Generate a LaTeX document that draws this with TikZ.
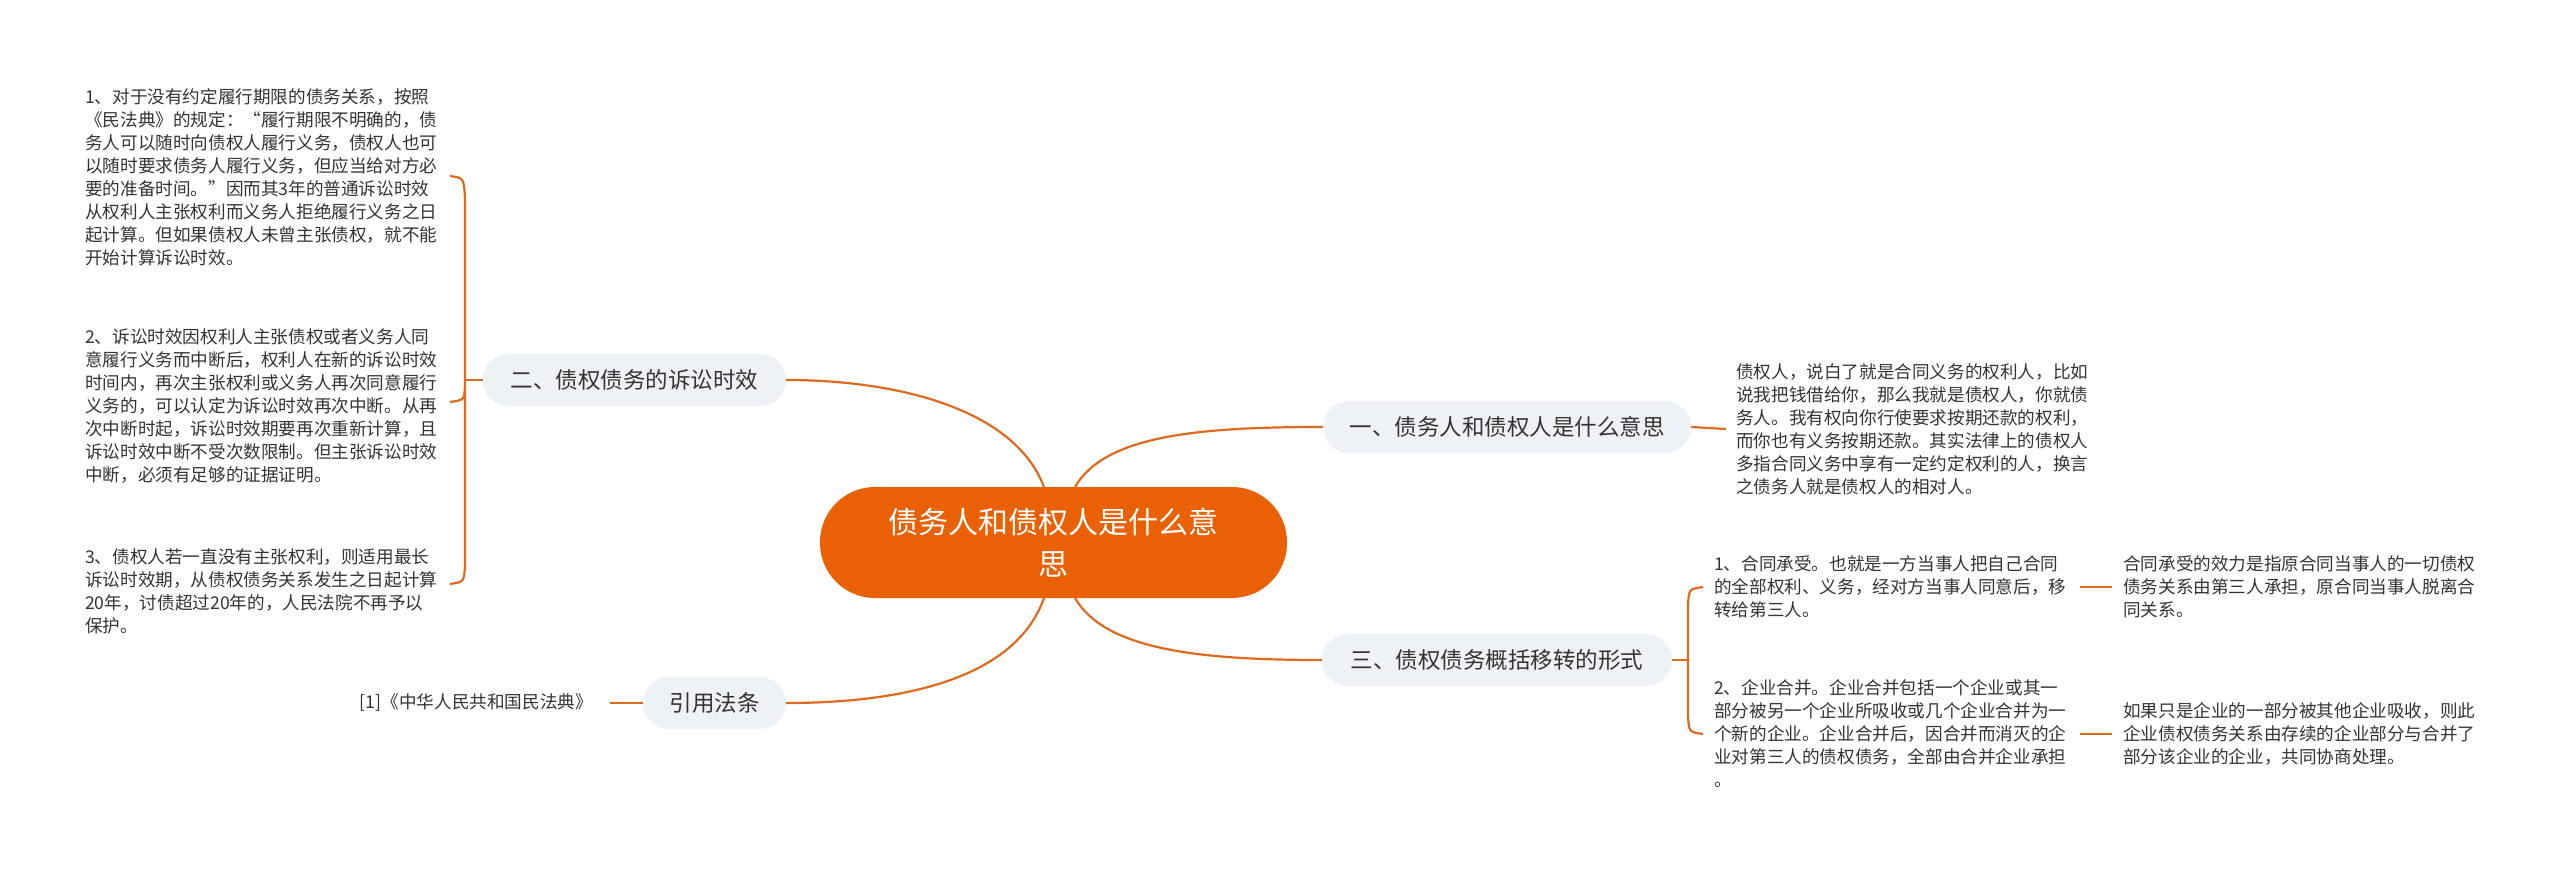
\documentclass[tikz,border=0pt]{standalone}
\usepackage{fontspec}
\setmainfont{Noto Sans CJK SC}
\begin{document}
\begin{tikzpicture}[x=1pt,y=-1pt,
  line/.style={draw=lineC,line width=2.2pt},
  branch/.style={fill=boxC,rounded corners=26pt,minimum height=52pt,inner xsep=26pt,text=txtC,font=\fontsize{22.5}{27}\selectfont},
  leaf/.style={inner sep=0pt,align=left,text=txtC,font=\fontsize{17.6}{23}\selectfont,anchor=west}]
\definecolor{lineC}{HTML}{DE6A1E}
\definecolor{mainC}{HTML}{EA6005}
\definecolor{boxC}{HTML}{EEF1F5}
\definecolor{txtC}{HTML}{333333}
\useasboundingbox (0,0) rectangle (2560,875);
\fill[white] (0,0) rectangle (2560,875);
% center
\node[fill=mainC,rounded corners=55pt,minimum width=467pt,minimum height=111pt,text=white,align=center,font=\fontsize{30}{42}\selectfont] (c) at (1053.5,542.5) {债务人和债权人是什么意\\思};
% branches
\node[branch,minimum width=368pt] (b1) at (1507,427) {一、债务人和债权人是什么意思};
\node[branch,minimum width=350pt] (b3) at (1497,660) {三、债权债务概括移转的形式};
\node[branch,minimum width=303pt] (b2) at (634.5,380) {二、债权债务的诉讼时效};
\node[branch,minimum width=143pt] (b4) at (714.5,703) {引用法条};
\coordinate (ctl) at (1044,487);
\coordinate (ctr) at (1075,487);
\coordinate (cbl) at (1044,598);
\coordinate (cbr) at (1075,598);
\draw[line] (ctr) .. controls (1105,435) and (1200,427) .. (b1.west);
\draw[line] (cbr) .. controls (1105,650) and (1200,660) .. (b3.west);
\draw[line] (ctl) .. controls (1015,410) and (900,380) .. (b2.east);
\draw[line] (cbl) .. controls (1015,680) and (900,703) .. (b4.east);
% right 1
\node[leaf] (r1) at (1736,429) {债权人，说白了就是合同义务的权利人，比如\\说我把钱借给你，那么我就是债权人，你就债\\务人。我有权向你行使要求按期还款的权利，\\而你也有义务按期还款。其实法律上的债权人\\多指合同义务中享有一定约定权利的人，换言\\之债务人就是债权人的相对人。};
\draw[line] (b1.east) -- (r1.west -| 1726,0);
% section 3
\node[leaf] (t31) at (1714,587) {1、合同承受。也就是一方当事人把自己合同\\的全部权利、义务，经对方当事人同意后，移\\转给第三人。};
\node[leaf] (t32) at (1714,734) {2、企业合并。企业合并包括一个企业或其一\\部分被另一个企业所吸收或几个企业合并为一\\个新的企业。企业合并后，因合并而消灭的企\\业对第三人的债权债务，全部由合并企业承担\\。};
\node[leaf] (t31r) at (2123,587) {合同承受的效力是指原合同当事人的一切债权\\债务关系由第三人承担，原合同当事人脱离合\\同关系。};
\node[leaf] (t32r) at (2123,734) {如果只是企业的一部分被其他企业吸收，则此\\企业债权债务关系由存续的企业部分与合并了\\部分该企业的企业，共同协商处理。};
\draw[line] (b3.east) -- (1687,660);
\draw[line] (1703,587) .. controls (1689,589) .. (1688,605) -- (1688,716) .. controls (1689,732) .. (1703,734);
\draw[line] (2080,587) -- (2112,587);
\draw[line] (2080,734) -- (2112,734);
% section 2
\node[leaf] (t21) at (85,177) {1、对于没有约定履行期限的债务关系，按照\\《民法典》的规定：“履行期限不明确的，债\\务人可以随时向债权人履行义务，债权人也可\\以随时要求债务人履行义务，但应当给对方必\\要的准备时间。”因而其3年的普通诉讼时效\\从权利人主张权利而义务人拒绝履行义务之日\\起计算。但如果债权人未曾主张债权，就不能\\开始计算诉讼时效。};
\node[leaf] (t22) at (85,406) {2、诉讼时效因权利人主张债权或者义务人同\\意履行义务而中断后，权利人在新的诉讼时效\\时间内，再次主张权利或义务人再次同意履行\\义务的，可以认定为诉讼时效再次中断。从再\\次中断时起，诉讼时效期要再次重新计算，且\\诉讼时效中断不受次数限制。但主张诉讼时效\\中断，必须有足够的证据证明。};
\node[leaf] (t23) at (85,591) {3、债权人若一直没有主张权利，则适用最长\\诉讼时效期，从债权债务关系发生之日起计算\\20年，讨债超过20年的，人民法院不再予以\\保护。};
\draw[line] (b2.west) -- (466,380);
\draw[line] (450,176) .. controls (464,178) .. (465,200) -- (465,388) .. controls (464,400) .. (450,402);
\draw[line] (465,388) -- (465,565) .. controls (464,582) .. (450,584);
% citation
\node[inner sep=0pt,anchor=east,text=txtC,font=\fontsize{17.6}{23}\selectfont] (t4) at (593,703) {[1]《中华人民共和国民法典》};
\draw[line] (b4.west) -- (610,703);
\end{tikzpicture}
\end{document}
